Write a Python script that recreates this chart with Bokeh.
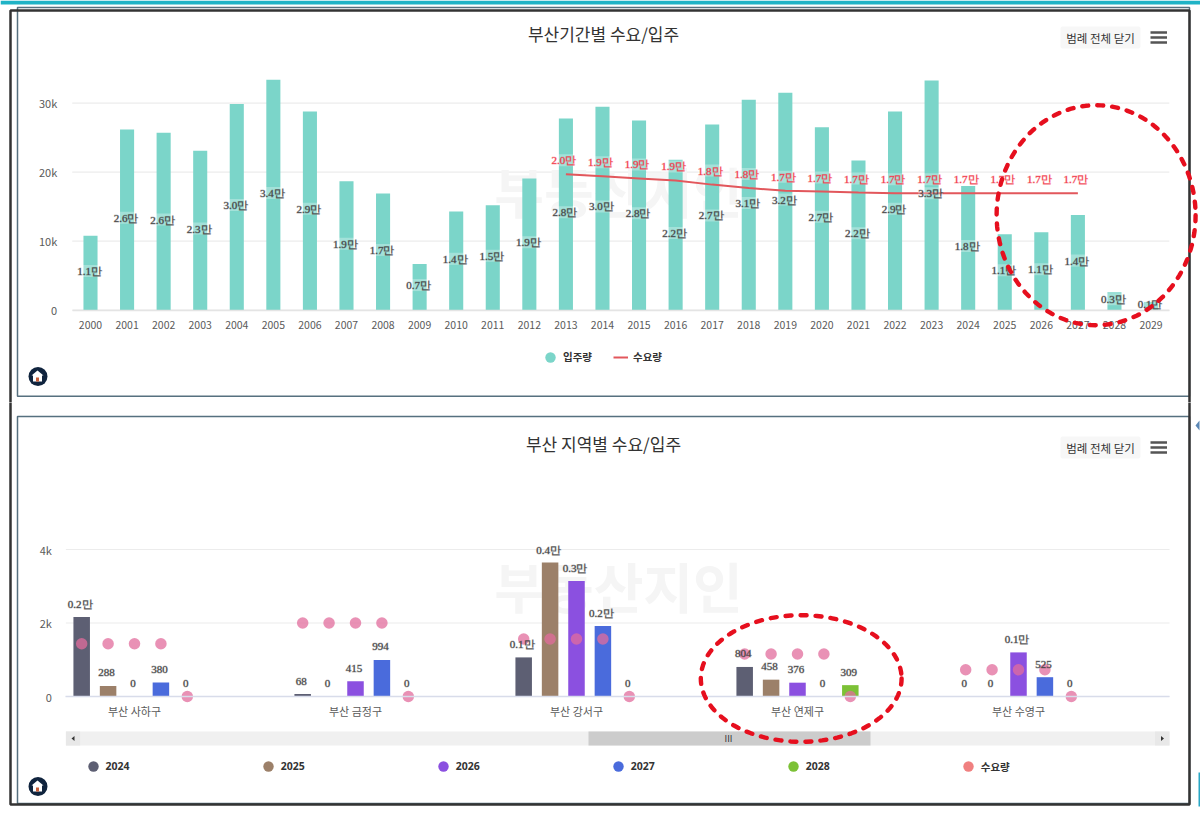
import math
from bokeh.plotting import figure
from bokeh.layouts import column
from bokeh.models import (BoxAnnotation, ColumnDataSource, FixedTicker, Label, Legend, LegendItem, LinearAxis,
                          PolyAnnotation, Range1d)
from bokeh.embed import file_html
from bokeh.resources import INLINE

FONT = "Noto Sans CJK KR"
FONT_B = '"Noto Sans", "Noto Sans CJK KR", sans-serif'

# ---- top chart data
years = [str(y) for y in range(2000, 2030)]
supply = [10800, 26200, 25700, 23100, 29900, 33400, 28800, 18700, 16900, 6700,
          14300, 15200, 19100, 27800, 29500, 27500, 21800, 26900, 30500, 31500,
          26500, 21700, 28800, 33300, 18000, 11000, 11300, 13800, 2600, 1200]
supply_labels = ["1.1만", "2.6만", "2.6만", "2.3만", "3.0만", "3.4만", "2.9만", "1.9만", "1.7만", "0.7만",
                 "1.4만", "1.5만", "1.9만", "2.8만", "3.0만", "2.8만", "2.2만", "2.7만", "3.1만", "3.2만",
                 "2.7만", "2.2만", "2.9만", "3.3만", "1.8만", "1.1만", "1.1만", "1.4만", "0.3만", "0.1만"]
demand_years = [str(y) for y in range(2013, 2028)]
demand = [19700, 19400, 19100, 18800, 18200, 17700, 17300, 17200, 17050, 16950,
          16950, 16950, 16950, 16950, 16950]
demand_labels = ["2.0만", "1.9만", "1.9만", "1.9만", "1.8만", "1.8만", "1.7만", "1.7만", "1.7만", "1.7만",
                 "1.7만", "1.7만", "1.7만", "1.7만", "1.7만"]
top_ticks = [0, 10000, 20000, 30000]
top_tick_labels = ["0", "10k", "20k", "30k"]

# ---- bottom chart data
districts = ["부산 사하구", "부산 금정구", "부산 강서구", "부산 연제구", "부산 수영구"]
series_names = ["2024", "2025", "2026", "2027", "2028"]
series_colors = ["#5d5f73", "#9c8069", "#8b50e0", "#4a6bdc", "#7cc136"]
v2024 = [2164, 68, 1064, 804, 0]
v2025 = [288, 0, 3645, 458, 0]
v2026 = [0, 415, 3145, 376, 1200]
v2027 = [380, 994, 1918, 0, 525]
v2028 = [0, 0, 0, 309, 0]
l2024 = ["0.2만", "68", "0.1만", "804", "0"]
l2025 = ["288", "0", "0.4만", "458", "0"]
l2026 = ["0", "415", "0.3만", "376", "0.1만"]
l2027 = ["380", "994", "0.2만", "0", "525"]
l2028 = ["0", "0", "0", "309", "0"]
district_demand = [1436, 2000, 1564, 1155, 727]
bottom_ticks = [0, 2000, 4000]
bottom_tick_labels = ["0", "2k", "4k"]


def box(p, l, t, r, b, fill=None, line=None, lw=1, radius=0, level="annotation"):
    p.add_layout(BoxAnnotation(left=l, right=r, top=t, bottom=b, left_units="canvas", right_units="canvas",
                               top_units="canvas", bottom_units="canvas", fill_color=fill, fill_alpha=1 if fill else 0,
                               line_color=line, line_alpha=1 if line else 0, line_width=lw,
                               border_radius=radius, level=level, editable=False))


def poly(p, xs, ys, fill=None, line=None, lw=1, dash=None, level="annotation", cap="butt"):
    a = PolyAnnotation(xs=xs, ys=ys, xs_units="canvas", ys_units="canvas", fill_color=fill, fill_alpha=1 if fill else 0,
                       line_color=line, line_alpha=1 if line else 0, line_width=lw, level=level, line_cap=cap)
    if dash:
        a.line_dash = dash
    p.add_layout(a)


def text(p, x, y, s, size="11px", color="#333333", style="normal", align="center", level="annotation"):
    p.add_layout(Label(x=x, y=y, x_units="canvas", y_units="canvas", text=s, text_font=FONT, text_font_size=size,
                       text_color=color, text_font_style=style, text_align=align, text_baseline="middle", level=level))


def chrome(p, oy, title, panel_top, panel_bottom, wm_x, wm_y, btn_y, title_y, logo_y):
    # canvas coordinates = page coordinates with y shifted by oy
    text(p, wm_x, wm_y - oy, "부동산지인", "54px", "#f5f5f5", "bold", level="underlay")
    text(p, 603, title_y - oy, title, "17px", "#333333")
    box(p, 17, panel_top - oy, 1189, panel_bottom - oy, line="#56707f", lw=1.5)
    box(p, 10, 10 - oy, 1189, 804 - oy, line="#333333", lw=2.5)
    box(p, 1060, btn_y - 11 - oy, 1140, btn_y + 11 - oy, fill="#f7f7f7", radius=2)
    text(p, 1100, btn_y - oy, "범례 전체 닫기", "11.5px", "#333333")
    for d in (-5, 0, 5):
        box(p, 1150, btn_y + d - 1.3 - oy, 1166.5, btn_y + d + 1.3 - oy, fill="#555555")
    box(p, 28, logo_y - 9.5 - oy, 47, logo_y + 9.5 - oy, fill="#10243e", radius=10)
    poly(p, [37, 43, 41.5, 41.5, 32.5, 32.5, 31],
         [logo_y - 6 - oy, logo_y - 1 - oy, logo_y - 1 - oy, logo_y + 5 - oy, logo_y + 5 - oy, logo_y - 1 - oy, logo_y - 1 - oy],
         fill="#ffffff")
    box(p, 35.5, logo_y + 1 - oy, 38.5, logo_y + 5 - oy, fill="#c9603a")


def ellipse(p, oy, cx, cy, rx, ry):
    n = 120
    xs = [cx + rx * math.cos(2 * math.pi * i / n) for i in range(n)]
    ys = [cy - oy + ry * math.sin(2 * math.pi * i / n) for i in range(n)]
    poly(p, xs, ys, line="#e60f1e", lw=4.4, dash=[6, 9], level="overlay", cap="round")


def axes(p, xticks, xlabels, yticks, ylabels, x_left, x_right, line_color, ystandoff, xstandoff, xsize):
    """Axes sit inside the full-canvas frame so nothing decorative gets clipped."""
    p.segment(x0=[x_left] * len(yticks), x1=[x_right] * len(yticks), y0=yticks, y1=yticks,
              line_color="#ececec", line_width=1.2, level="underlay")
    xa = LinearAxis(fixed_location=0, ticker=FixedTicker(ticks=xticks), bounds=(x_left, x_right),
                    major_label_overrides=dict(zip(xticks, xlabels)))
    ya = LinearAxis(fixed_location=x_left, ticker=FixedTicker(ticks=yticks),
                    major_label_overrides=dict(zip(yticks, ylabels)))
    xa.axis_line_color = line_color
    xa.axis_line_width = 1.5
    ya.axis_line_color = None
    for ax in (xa, ya):
        ax.major_tick_line_color = None
        ax.minor_tick_line_color = None
        ax.major_label_text_font = FONT
        ax.major_label_text_color = "#5a5a5a"
    xa.major_label_text_font_size = xsize
    ya.major_label_text_font_size = "11px"
    xa.major_label_standoff = xstandoff
    ya.major_label_standoff = ystandoff
    p.add_layout(xa, "below")
    p.add_layout(ya, "left")


W = 1200
H1 = 402
H2 = 412
LABEL_BG = dict(background_fill_color="#ffffff", background_fill_alpha=0.3)
LEGEND_STYLE = dict(orientation="horizontal", padding=0, margin=0, label_text_font=FONT_B, label_text_font_size="10.5px",
                    label_text_font_style="bold", label_text_color="#333333", background_fill_alpha=0, border_line_color=None)
NAN = float("nan")
DARK_LABEL = dict(text_font=FONT, text_font_size="11px", text_color="#444444", text_outline_color="#44444459",
                  text_align="center", text_baseline="middle")
RED_LABEL = dict(text_font=FONT, text_font_size="11px", text_color="#f23a4a", text_outline_color="#f23a4a59",
                 text_align="center", text_baseline="middle")

# ---- top figure: frame spans the canvas, ranges place data at the chart's plot area
idx = list(range(len(years)))
p1 = figure(width=W, height=H1, x_range=Range1d(-90 / 36.57, (W - 90) / 36.57),
            y_range=Range1d((309.7 - H1) / 6.9 * 1000, 309.7 / 6.9 * 1000), output_backend="svg", toolbar_location=None,
            x_axis_location=None, y_axis_location=None, min_border=0)
p1.outline_line_color = None
p1.grid.visible = False
box(p1, 0, 0, 1200, 4, fill="#1fb3c6")
chrome(p1, 0, "부산기간별 수요/입주", 7, 395.7, 618, 190, 37, 33, 376)
axes(p1, idx, years, top_ticks, top_tick_labels, -0.5, 29.5, "#e4e4e4", 9, 5, "10.5px")

src1 = ColumnDataSource(dict(x=idx, top=supply, mid=[v / 2 for v in supply], lab=supply_labels))
p1.vbar(x="x", top="top", width=0.385, fill_color="#7bd5c9", line_color=None, source=src1)
src2 = ColumnDataSource(dict(x=[years.index(y) for y in demand_years], y=demand, lab=demand_labels))
line1 = p1.line(x="x", y="y", line_color="#e2575c", line_width=2, source=src2)
p1.text(x="x", y="mid", text="lab", source=src1, x_offset=-1, y_offset=-2, **DARK_LABEL, **LABEL_BG)
p1.text(x="x", y="y", text="lab", source=src2, x_offset=-2, y_offset=-14, **RED_LABEL, **LABEL_BG)
proxy1 = p1.scatter(x=[NAN], y=[NAN], marker="circle", size=10, fill_color="#7bd5c9", line_color=None)
leg1a = Legend(items=[LegendItem(label="입주량", renderers=[proxy1])], location=(537, 32.3),
               glyph_width=26, glyph_height=26, label_standoff=0, **LEGEND_STYLE)
leg1b = Legend(items=[LegendItem(label="수요량", renderers=[line1])], location=(613, 37.3),
               glyph_width=15, glyph_height=16, label_standoff=5, **LEGEND_STYLE)
p1.add_layout(leg1a, "center")
p1.add_layout(leg1b, "center")
ellipse(p1, 0, 1095.6, 214.7, 99.5, 110)

# ---- bottom figure
p2 = figure(width=W, height=H2, x_range=Range1d(-134 / 221, (W - 134) / 221),
            y_range=Range1d(-(H2 - (696 - 402)) / 36.75 * 1000, (696 - 402) / 36.75 * 1000), output_backend="svg",
            toolbar_location=None, x_axis_location=None, y_axis_location=None, min_border=0)
p2.outline_line_color = None
p2.grid.visible = False
chrome(p2, 402, "부산 지역별 수요/입주", 416, 803, 618, 585, 447, 443, 786)
axes(p2, list(range(len(districts))), districts, bottom_ticks, bottom_tick_labels, (65.4 - 134) / 221, (1169 - 134) / 221,
     "#d8dcea", 8, 0, "11px")

series_vals = [v2024, v2025, v2026, v2027, v2028]
series_labs = [l2024, l2025, l2026, l2027, l2028]
STEP = 0.1195
legend_items = []
label_sources = []
for j, (name, color, vals, labs) in enumerate(zip(series_names, series_colors, series_vals, series_labs)):
    xs = [i + (j - 2) * STEP for i in range(len(districts))]
    s = ColumnDataSource(dict(x=xs, top=vals, lab=labs))
    p2.vbar(x="x", top="top", width=0.0747, fill_color=color, line_color=None, source=s)
    label_sources.append(s)
    proxy = p2.scatter(x=[NAN], y=[NAN], marker="circle", size=10, fill_color=color, line_color=None)
    legend_items.append(LegendItem(label=name, renderers=[proxy]))
for j in range(len(series_names)):
    xs = [i + (j - 2) * STEP for i in range(len(districts))]
    ys = [d if j < 4 else 0 for d in district_demand]
    p2.scatter(x=xs, y=ys, marker="circle", size=11.5, fill_color="#e16c9c", fill_alpha=0.75, line_color=None)
for s in label_sources:
    p2.text(x="x", y="top", text="lab", source=s, x_offset=-1.5, y_offset=-13, **DARK_LABEL)
proxy = p2.scatter(x=[NAN], y=[NAN], marker="circle", size=10, fill_color="#f08080", line_color=None)
legend_items.append(LegendItem(label="수요량", renderers=[proxy]))
leg2 = Legend(items=legend_items, location=(79.6, 34.7), spacing=125, glyph_width=26, glyph_height=26, label_standoff=0,
              **LEGEND_STYLE)
p2.add_layout(leg2, "center")

# scrollbar
box(p2, 65.4, 731 - 402, 1169, 745 - 402, fill="#f0f0f0")
box(p2, 588, 731 - 402, 870, 745 - 402, fill="#cccccc")
box(p2, 65.4, 731 - 402, 79.6, 745 - 402, fill="#e8e8e8")
box(p2, 1154.5, 731 - 402, 1169, 745 - 402, fill="#e8e8e8")
poly(p2, [71, 74, 74], [738 - 402, 735.5 - 402, 740.5 - 402], fill="#333333")
poly(p2, [1163.5, 1160.5, 1160.5], [738 - 402, 735.5 - 402, 740.5 - 402], fill="#333333")
text(p2, 728, 737.5 - 402, "III", "9px", "#333333")
# page fragments at the right edge
poly(p2, [1195, 1199, 1199], [425 - 402, 420 - 402, 430 - 402], fill="#5b87b5")
box(p2, 1198, 772 - 402, 1200, 806 - 402, fill="#2aa7c5")
ellipse(p2, 402, 800.7, 678, 100.4, 63.3)

page = column(p1, p2, spacing=0)
open("out.html", "w").write(file_html(page, INLINE))
